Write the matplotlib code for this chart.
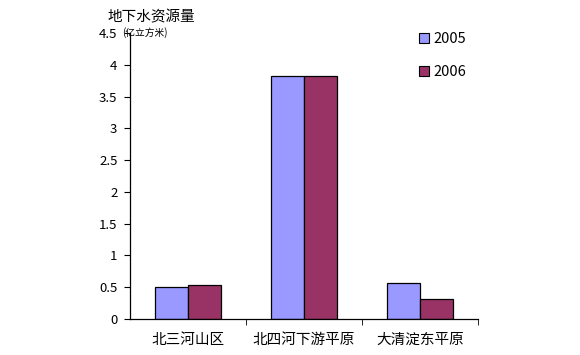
import numpy as np
import matplotlib
matplotlib.use("Agg")
import matplotlib.pyplot as plt
from matplotlib.patches import Patch

plt.rcParams['font.family'] = ['Noto Sans CJK SC', 'DejaVu Sans']

categories = ["北三河山区", "北四河下游平原", "大清淀东平原"]
years = ["2005", "2006"]
values_2005 = [0.50, 3.82, 0.56]
values_2006 = [0.53, 3.83, 0.31]
colors = ["#9999FF", "#993366"]

fig = plt.figure(figsize=(5.8, 3.55), dpi=100)
ax = fig.add_axes([0.2241, 0.1014, 0.6, 0.8056])

x = np.arange(len(categories))
w = 0.284
ax.bar(x - w / 2, values_2005, w, color=colors[0], edgecolor="black", linewidth=0.9)
ax.bar(x + w / 2, values_2006, w, color=colors[1], edgecolor="black", linewidth=0.9)

ax.set_xlim(-0.5, 2.5)
ax.set_ylim(0, 4.5)
ax.set_yticks(np.arange(0, 4.6, 0.5))
ax.set_yticklabels(["0", "0.5", "1", "1.5", "2", "2.5", "3", "3.5", "4", "4.5"])
ax.set_xticks(x)
ax.set_xticklabels(categories, fontsize=10.5)
ax.set_xticks([0.5, 1.5, 2.5], minor=True)
ax.tick_params(axis="x", which="major", length=0, pad=10)
ax.tick_params(axis="x", which="minor", length=4, direction="out")
ax.tick_params(axis="y", length=4, direction="out", labelsize=9.5, pad=5)

for s in ["top", "right"]:
    ax.spines[s].set_visible(False)
for s in ["left", "bottom"]:
    ax.spines[s].set_linewidth(0.9)

fig.text(0.186, 0.95, "地下水资源量", fontsize=10.5, ha="left", va="center")
fig.text(0.21, 0.907, "(亿立方米)", fontsize=7, ha="left", va="center")

handles = [Patch(facecolor=c, edgecolor="black", linewidth=0.8) for c in colors]
fig.legend(handles, years, loc="upper left", bbox_to_anchor=(0.70, 0.947),
           frameon=False, handlelength=0.7, handleheight=0.7,
           handletextpad=0.3, labelspacing=1.3, fontsize=10.5)

fig.savefig("out.png", dpi=100)
